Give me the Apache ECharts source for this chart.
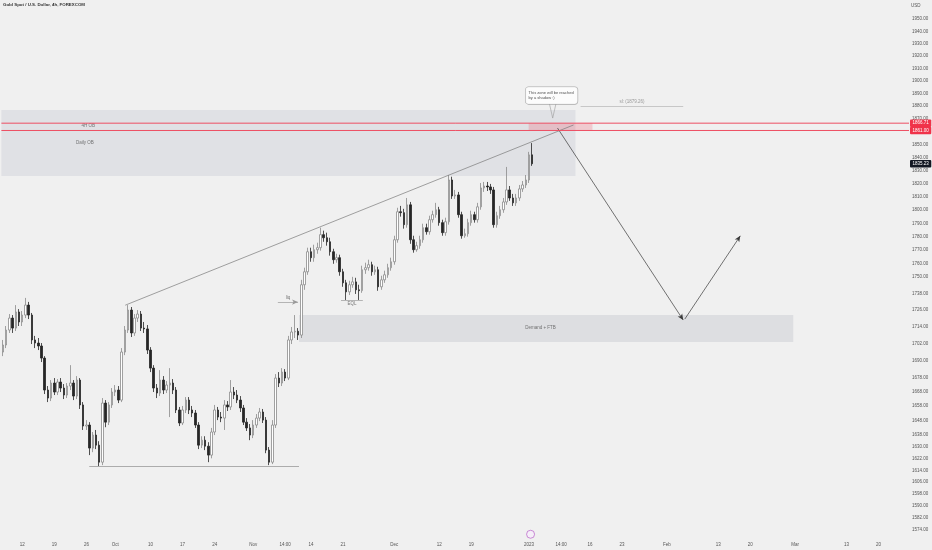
<!DOCTYPE html>
<html><head><meta charset="utf-8">
<script src="https://cdn.jsdelivr.net/npm/echarts@6/dist/echarts.min.js"></script>
<style>html,body{margin:0;padding:0;background:#f0f0f0}#chart{width:932px;height:550px}</style>
</head><body><div id="chart"></div>
<script>
const titleText = 'Gold Spot / U.S. Dollar, 4h, FOREXCOM';
const currencyText = 'USD';

// 12h candles (prices in USD)
const opens = [1696.0,1701.0,1711.7,1720.3,1713.1,1724.7,1717.5,1722.5,1729.7,1722.5,1704.6,1702.4,1700.3,1691.7,1669.2,1663.6,1674.1,1667.8,1674.8,1670.6,1665.7,1672.0,1674.1,1665.0,1676.2,1658.8,1644.2,1644.9,1629.1,1638.0,1631.1,1619.5,1660.1,1646.9,1658.8,1667.8,1669.2,1662.2,1696.0,1711.7,1726.1,1709.6,1720.3,1723.2,1713.1,1712.5,1697.4,1684.6,1670.6,1667.1,1676.2,1669.2,1672.7,1674.1,1669.2,1655.3,1646.3,1655.3,1662.2,1655.3,1653.2,1644.9,1631.1,1634.5,1630.4,1624.3,1640.1,1655.3,1650.4,1649.7,1658.8,1657.4,1667.8,1665.7,1662.2,1656.7,1646.9,1642.9,1638.0,1644.9,1649.7,1653.9,1648.3,1627.7,1619.5,1644.9,1677.6,1674.1,1681.8,1677.6,1704.6,1710.3,1710.8,1708.1,1744.5,1754.0,1768.8,1764.4,1770.3,1771.8,1781.5,1779.2,1776.2,1768.8,1762.9,1764.4,1754.0,1745.9,1739.3,1744.5,1746.6,1740.8,1740.2,1755.5,1757.0,1759.2,1754.0,1755.5,1743.0,1748.1,1751.8,1757.0,1761.4,1777.7,1798.7,1798.0,1789.0,1803.9,1777.7,1770.3,1773.3,1777.7,1786.7,1783.7,1792.7,1796.5,1800.2,1790.5,1783.0,1791.2,1822.8,1810.6,1811.4,1796.5,1780.7,1782.2,1790.5,1796.5,1792.7,1802.4,1816.7,1818.2,1817.5,1815.2,1789.0,1795.7,1800.2,1806.1,1815.2,1809.1,1805.4,1809.1,1816.0,1819.0,1822.8,1842.1];
const closes = [1701.0,1711.7,1720.3,1713.1,1724.7,1717.5,1722.5,1729.7,1722.5,1704.6,1702.4,1700.3,1691.7,1669.2,1663.6,1674.1,1667.8,1674.8,1670.6,1665.7,1672.0,1674.1,1665.0,1676.2,1658.8,1644.2,1644.9,1629.1,1638.0,1631.1,1619.5,1660.1,1646.9,1658.8,1667.8,1669.2,1662.2,1696.0,1711.7,1726.1,1709.6,1720.3,1723.2,1713.1,1712.5,1697.4,1684.6,1670.6,1667.1,1676.2,1669.2,1672.7,1674.1,1669.2,1655.3,1646.3,1655.3,1662.2,1655.3,1653.2,1644.9,1631.1,1634.5,1630.4,1624.3,1640.1,1655.3,1650.4,1649.7,1658.8,1657.4,1667.8,1665.7,1662.2,1656.7,1646.9,1642.9,1638.0,1644.9,1649.7,1653.9,1648.3,1627.7,1619.5,1644.9,1677.6,1674.1,1681.8,1677.6,1704.6,1710.3,1710.8,1708.1,1744.5,1754.0,1768.8,1764.4,1770.3,1771.8,1781.5,1779.2,1776.2,1768.8,1762.9,1764.4,1754.0,1745.9,1739.3,1744.5,1746.6,1740.8,1740.2,1755.5,1757.0,1759.2,1754.0,1755.5,1743.0,1748.1,1751.8,1757.0,1761.4,1777.7,1798.7,1798.0,1789.0,1803.9,1777.7,1770.3,1773.3,1777.7,1786.7,1783.7,1792.7,1796.5,1800.2,1790.5,1783.0,1791.2,1822.8,1810.6,1811.4,1796.5,1780.7,1782.2,1790.5,1796.5,1792.7,1802.4,1816.7,1818.2,1817.5,1815.2,1789.0,1795.7,1800.2,1806.1,1815.2,1809.1,1805.4,1809.1,1816.0,1819.0,1822.8,1842.1,1835.23];
const highs = [1704.6,1714.6,1723.2,1722.5,1729.7,1726.8,1725.4,1734.9,1732.0,1724.0,1707.5,1706.0,1702.4,1693.1,1672.0,1676.2,1677.6,1676.9,1677.6,1673.4,1674.1,1686.7,1676.2,1679.0,1677.6,1660.8,1648.3,1646.9,1640.1,1641.5,1633.8,1663.6,1662.2,1660.8,1670.6,1672.7,1672.0,1698.8,1714.6,1729.7,1728.3,1723.2,1726.1,1725.4,1717.5,1715.3,1699.5,1686.7,1673.4,1683.2,1679.0,1675.5,1684.6,1676.9,1671.3,1657.4,1658.1,1664.3,1664.3,1658.1,1655.3,1646.9,1637.2,1637.2,1633.1,1642.9,1658.8,1657.4,1653.9,1662.2,1661.5,1676.2,1671.3,1669.2,1665.0,1658.8,1649.7,1645.6,1648.3,1652.5,1656.7,1656.0,1650.4,1629.8,1648.3,1680.4,1681.8,1684.6,1683.9,1707.5,1713.9,1722.5,1713.1,1748.1,1757.0,1771.8,1771.8,1774.0,1775.5,1786.7,1784.5,1783.0,1779.2,1771.0,1767.3,1766.6,1756.2,1748.1,1747.4,1750.3,1749.6,1744.5,1758.5,1760.7,1762.9,1761.4,1758.5,1757.7,1751.1,1754.8,1759.9,1764.4,1780.7,1801.7,1803.1,1800.9,1809.1,1806.1,1780.7,1776.2,1780.7,1789.7,1789.7,1795.7,1799.5,1805.4,1802.4,1792.7,1794.2,1826.6,1825.3,1815.2,1813.7,1798.7,1786.0,1793.4,1799.5,1798.7,1805.4,1820.5,1821.3,1821.3,1819.8,1817.5,1798.7,1803.1,1809.1,1832.8,1818.2,1812.2,1812.2,1819.0,1822.0,1826.6,1844.4,1851.2];
const lows = [1693.1,1698.8,1709.6,1709.6,1711.0,1714.6,1714.6,1720.3,1719.6,1701.7,1698.8,1697.4,1688.9,1666.4,1660.8,1661.5,1665.7,1665.7,1667.8,1662.9,1663.6,1669.2,1662.2,1662.9,1656.0,1641.5,1641.5,1624.3,1626.3,1628.4,1616.8,1617.5,1643.4,1644.9,1656.7,1665.0,1660.1,1660.8,1693.8,1709.6,1706.7,1707.5,1717.5,1711.0,1709.6,1694.6,1681.8,1667.8,1663.6,1665.0,1666.4,1667.1,1650.4,1666.4,1653.2,1644.2,1644.9,1653.2,1652.5,1650.4,1642.9,1628.4,1629.1,1627.7,1619.5,1622.1,1638.0,1648.3,1646.9,1641.5,1654.6,1655.3,1662.9,1660.1,1653.9,1644.9,1640.8,1634.5,1635.9,1642.9,1647.6,1646.3,1625.6,1617.5,1618.2,1642.9,1671.3,1672.0,1675.5,1676.2,1701.7,1706.0,1704.6,1706.0,1740.8,1751.8,1761.4,1761.4,1767.3,1769.6,1776.2,1773.3,1765.9,1759.9,1760.7,1751.1,1743.0,1733.4,1737.0,1742.3,1737.8,1733.4,1738.6,1752.5,1754.8,1751.1,1751.8,1740.1,1740.8,1745.9,1749.6,1754.8,1759.2,1775.5,1795.0,1786.0,1786.7,1774.7,1768.1,1768.8,1771.0,1775.5,1781.5,1781.5,1790.5,1794.2,1788.2,1780.7,1780.7,1789.0,1808.4,1808.4,1794.2,1778.5,1779.2,1780.0,1788.2,1790.5,1790.5,1800.2,1813.7,1814.4,1812.2,1786.7,1786.7,1793.4,1797.9,1803.9,1806.9,1803.1,1803.1,1806.9,1813.7,1816.7,1820.5,1833.6];

// time axis: 12h slots, incl. future space
const slotCount = 283;
const xTickSlots = [6,16,26,35,46,56,66,78,88,96,106,122,136,146,164,174,183,193,207,223,233,247,263,273];
const xTickTexts = ['12','19','26','Oct','10','17','24','Nov','14:00','14','21','Dec','12','19','2023','14:00','16','23','Feb','13','20','Mar','13','20'];

// price axis (log scale)
const priceMin = 1569.5, priceMax = 1965.6;
const yTickValues = [1950,1940,1930,1920,1910,1900,1890,1880,1870,1850,1840,1830,1820,1810,1800,1790,1780,1770,1760,1750,1738,1726,1714,1702,1690,1678,1668,1658,1648,1638,1630,1622,1614,1606,1598,1590,1582,1574];

// drawings: [slotFrom, slotTo, priceTop, priceBottom]
const dailyOB = [-0.5, 178.5, 1877.0, 1825.8];
const h4OBLevels = [1866.71, 1861.00];
const h4OBFill = [163.9, 183.8, 1866.71, 1861.00];
const demandZone = [92.3, 246.4, 1722.5, 1703.1];
const lastPrice = 1835.23;
// lines: [[slot, price], [slot, price]]
const trendLine = [[38.1, 1729.6], [177.9, 1865.3]];
const projDown = [[172.9, 1862.9], [212.1, 1718.9]];
const projUp = [[212.6, 1719.6], [229.9, 1780.6]];
const slLine = [[180.1, 1880.2], [212.1, 1880.2]];
const lowLine = [[26.9, 1616.9], [92.3, 1616.9]];
const liqArrow = [[85.7, 1731.9], [92.0, 1731.9]];
const eqlLine = [[105.4, 1733.4], [112.2, 1733.4]];
const calloutTail = [[170.4, 1881.8], [171.4, 1870.7], [172.4, 1881.8]];
const calloutAnchor = [162.95, 1895.2];
const calloutText = 'This zone will be reached\nby a shadow :)';
const slText = 'sl: (1879.26)';
const textMarks = [
  {text: '4H OB', slot: 26.6, price: 1864.5},
  {text: 'Daily OB', slot: 25.5, price: 1851.2},
  {text: 'Demand + FTB', slot: 167.6, price: 1713.1}
];
const iconMark = [164.5, 1571.3];

const ln = Math.log;
const FONT = 'Liberation Sans, Arial, sans-serif';
const categories = Array.from({length: slotCount}, (_, i) => String(i));
const tickMap = {};
xTickSlots.forEach((s, i) => { tickMap[s] = xTickTexts[i]; });
const candleData = opens.map((o, i) => [ln(o), ln(closes[i]), ln(lows[i]), ln(highs[i])]);
const pt = p => [p[0], ln(p[1])];
const xLeft = -0.5, xRight = slotCount - 0.5;

function seg(pts, color, width, arrow, label, opacity) {
  const a = {coord: pt(pts[0]), symbol: 'none',
    lineStyle: {color: color, width: width, type: 'solid', opacity: opacity === undefined ? 1 : opacity}};
  a.label = label ? label : {show: false};
  const b = {coord: pt(pts[1]), symbol: arrow ? 'arrow' : 'none', symbolSize: arrow ? [4, 6] : 0};
  return [a, b];
}
function hline(price, color, width, label, opacity) {
  return seg([[xLeft, price], [xRight, price]], color, width, false, label, opacity);
}
function area(z, color) {
  return [{coord: [z[0], ln(z[2])], itemStyle: {color: color}}, {coord: [z[1], ln(z[3])]}];
}
const tagStyle = (bg) => ({backgroundColor: bg, color: '#fff', opacity: 1, fontSize: 4.5, fontFamily: FONT,
  padding: [1.5, 2.5, 1, 2.5], borderRadius: 1});
const priceTag = (bg, txt) => Object.assign({show: true, position: 'end', distance: 1, formatter: txt}, tagStyle(bg));
function levelSeries(price) {
  return {
    type: 'line', xAxisIndex: 1, yAxisIndex: 0, z: 6, silent: true, symbol: 'none',
    data: [pt([xLeft, price]), pt([xRight, price])],
    lineStyle: {color: '#ee4f63', width: 1, opacity: 1},
    itemStyle: {color: '#ee4f63'},
    endLabel: Object.assign({show: true, distance: 1, formatter: price.toFixed(2)}, tagStyle('#f0334a'))
  };
}

const option = {
  backgroundColor: '#f0f0f0',
  animation: false,
  title: [
    {text: titleText, left: 3, top: 3, padding: 0, textStyle: {fontSize: 4.4, fontWeight: 'bold', color: '#333', fontFamily: FONT}},
    {text: currencyText, left: 911, top: 3, padding: 0, textStyle: {fontSize: 4.5, fontWeight: 'normal', color: '#555', fontFamily: FONT}}
  ],
  grid: {left: 0, right: 23, top: 0, bottom: 13},
  xAxis: [
    {type: 'category', data: categories, boundaryGap: true,
     axisLine: {show: false}, axisTick: {show: false}, splitLine: {show: false},
     axisLabel: {interval: 0, margin: 5, fontSize: 4.5, color: '#555', fontFamily: FONT,
       formatter: (v, i) => tickMap[i] || ''}},
    {type: 'value', min: xLeft, max: xRight, show: false}
  ],
  yAxis: {
    type: 'value', position: 'right', min: ln(priceMin), max: ln(priceMax),
    axisLine: {show: false}, axisTick: {show: false}, splitLine: {show: false},
    axisLabel: {customValues: yTickValues.map(ln), formatter: v => Math.exp(v).toFixed(2),
      margin: 3, fontSize: 4.5, color: '#555', fontFamily: FONT, align: 'left'}
  },
  series: [
    {
      type: 'scatter', xAxisIndex: 1, yAxisIndex: 0, z: 1, data: [], silent: true,
      markArea: {silent: true, data: [
        area(dailyOB, 'rgba(205,207,214,0.45)'),
        area(demandZone, 'rgba(205,207,214,0.55)'),
        area(h4OBFill, 'rgba(242,70,90,0.22)')
      ]}
    },
    {
      type: 'candlestick', xAxisIndex: 0, yAxisIndex: 0, z: 3, barWidth: 2,
      data: candleData,
      itemStyle: {color: '#ffffff', color0: '#262626', borderColor: '#8a8a8a', borderColor0: '#262626', borderWidth: 0.8}
    },
    {
      type: 'scatter', xAxisIndex: 1, yAxisIndex: 0, z: 5, symbolSize: 0, silent: true,
      data: textMarks.map(m => ({value: [m.slot, ln(m.price)], label: {show: true, formatter: m.text}})),
      label: {position: 'inside', fontSize: 4.5, color: '#555', fontFamily: FONT},
      markLine: {silent: true, symbol: 'none', animation: false, data: [
        seg(trendLine, '#7a7a7a', 0.7, false),
        seg(projDown, '#3a3a3a', 0.7, true),
        seg(projUp, '#3a3a3a', 0.7, true),
        seg(lowLine, '#9a9a9a', 0.8, false),
        seg(slLine, '#b5b5b5', 0.7, false, {show: true, position: 'middle', distance: 1.5, formatter: slText, fontSize: 4.5, color: '#9a9a9a', fontFamily: FONT}),
        seg(liqArrow, '#9a9a9a', 0.7, true, {show: true, position: 'middle', distance: 1.5, formatter: 'liq', fontSize: 4.5, color: '#777', fontFamily: FONT}),
        seg(eqlLine, '#9a9a9a', 0.7, false, {show: true, position: 'insideMiddleBottom', distance: 1.5, formatter: 'EQL', fontSize: 4.5, color: '#777', fontFamily: FONT})
      ]}
    },
    levelSeries(h4OBLevels[0]),
    levelSeries(h4OBLevels[1]),
    {
      type: 'scatter', xAxisIndex: 1, yAxisIndex: 0, z: 6, data: [], silent: true,
      markLine: {silent: true, symbol: 'none', animation: false, data: [
        hline(lastPrice, '#f0f0f0', 0.1, priceTag('#131722', lastPrice.toFixed(2)), 0.01)
      ]}
    },
    {
      type: 'line', xAxisIndex: 1, yAxisIndex: 0, z: 6, silent: true, symbol: 'none',
      data: calloutTail.map(pt), lineStyle: {color: '#9a9a9a', width: 0.6}
    },
    {
      type: 'scatter', xAxisIndex: 1, yAxisIndex: 0, z: 7, symbolSize: 0, silent: true,
      data: [{value: pt(calloutAnchor)}],
      label: {show: true, formatter: calloutText, position: [0, 0], align: 'left', verticalAlign: 'top',
        backgroundColor: '#ffffff', borderColor: '#9a9a9a', borderWidth: 0.6, borderRadius: 3,
        padding: [3, 3, 3, 3], width: 46, fontSize: 4, lineHeight: 5.5, color: '#222', fontFamily: FONT}
    },
    {
      type: 'scatter', xAxisIndex: 1, yAxisIndex: 0, z: 7, silent: true, symbol: 'circle', symbolSize: 8,
      data: [pt(iconMark)],
      itemStyle: {color: '#f6eefa', borderColor: '#b04fc2', borderWidth: 0.8}
    }
  ]
};
const chart = echarts.init(document.getElementById('chart'), null, {renderer: 'canvas'});
chart.setOption(option);
</script></body></html>
